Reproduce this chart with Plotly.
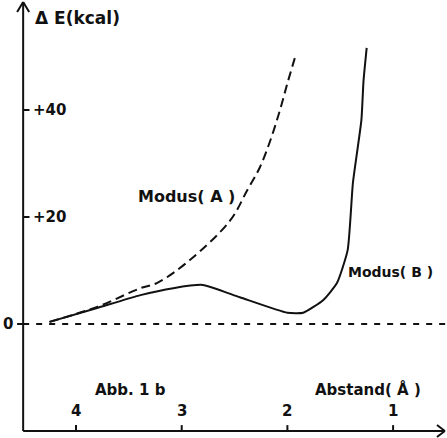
import plotly.graph_objects as go

# Data
distance_A = [4.25, 3.80, 3.39, 3.23, 2.92, 2.54, 2.38, 2.26, 2.16, 2.07, 2.00, 1.93]
energy_A = [0.4, 3.2, 6.7, 7.7, 12.0, 19.4, 25.0, 29.3, 34.4, 40.0, 45.0, 49.7]

distance_B = [4.25, 3.80, 3.39, 3.08, 2.80, 2.45, 2.00, 1.85, 1.66, 1.53, 1.43, 1.38, 1.30, 1.28, 1.25]
energy_B = [0.4, 3.0, 5.4, 6.7, 7.3, 5.0, 2.1, 2.1, 4.5, 7.7, 13.8, 26.4, 38.1, 45.4, 51.6]

x_ticks = [4, 3, 2, 1]
y_ticks = [0, 20, 40]
y_tick_labels = ["0", "+20", "+40"]

X_MIN, X_MAX = 4.5, 0.51      # axis extent (reversed)
Y_MIN, Y_MAX = -20, 60.2

FONT = "DejaVu Sans"
BLACK = "#111111"

fig = go.Figure()

# zero line
fig.add_trace(go.Scatter(x=[X_MIN, 0.49], y=[0, 0], mode="lines",
                         line=dict(color=BLACK, width=2, dash="6px,7px"),
                         hoverinfo="skip", showlegend=False))
# Modus A (dashed)
fig.add_trace(go.Scatter(x=distance_A, y=energy_A, mode="lines",
                         line=dict(color=BLACK, width=2, dash="9px,5px", shape="spline", smoothing=1.0),
                         showlegend=False))
# Modus B (solid)
fig.add_trace(go.Scatter(x=distance_B, y=energy_B, mode="lines",
                         line=dict(color=BLACK, width=2, shape="spline", smoothing=0.5),
                         showlegend=False))

shapes = []
def seg(x0, y0, x1, y1, w=2):
    shapes.append(dict(type="line", xref="x", yref="y", x0=x0, y0=y0, x1=x1, y1=y1,
                       line=dict(color=BLACK, width=w)))

# axes
seg(X_MIN, Y_MIN, X_MIN, Y_MAX)
seg(X_MIN, Y_MIN, X_MAX, Y_MIN)
# arrow heads
seg(X_MIN, Y_MAX, X_MIN + 0.057, Y_MAX - 1.9)
seg(X_MIN, Y_MAX, X_MIN - 0.057, Y_MAX - 1.9)
seg(X_MAX, Y_MIN, X_MAX + 0.075, Y_MIN + 1.12)
seg(X_MAX, Y_MIN, X_MAX + 0.075, Y_MIN - 1.12)
# ticks
for t in x_ticks:
    seg(t, Y_MIN, t, Y_MIN + 1.1)
for v in y_ticks:
    if v == 0:
        seg(X_MIN, v, X_MIN + 0.057, v)
    else:
        seg(X_MIN, v, X_MIN - 0.06, v)

annotations = []
def txt(x, y, s, size=16, xanchor="center"):
    annotations.append(dict(x=x, y=y, xref="x", yref="y", text=s, showarrow=False,
                            xanchor=xanchor, yanchor="middle",
                            font=dict(family=FONT, size=size, color=BLACK, weight="bold")))

for t in x_ticks:
    txt(t, -16.3, str(t), size=15)
for v, lab in zip(y_ticks, y_tick_labels):
    if v == 0:
        txt(X_MIN + 0.08, v, lab, size=15, xanchor="right")
    else:
        txt(X_MIN - 0.07, v, lab, size=15, xanchor="left")

txt(4.41, 57.2, "\u0394 E(kcal)", size=17, xanchor="left")
txt(2.95, 23.8, "Modus( A )", size=16)
txt(1.02, 9.7, "Modus( B )", size=14)
txt(3.48, -12.4, "Abb. 1 b", size=15)
txt(1.76, -12.2, "Abstand( \u00c5 )", size=15, xanchor="left")

px0_d = 4 + 76 / 105.7
px1_d = 4 - 371 / 105.7
py0_v = 324 / 5.35
py1_v = -114 / 5.35

fig.update_layout(
    width=447, height=438,
    margin=dict(l=0, r=0, t=0, b=0),
    paper_bgcolor="white", plot_bgcolor="white",
    xaxis=dict(range=[px0_d, px1_d], visible=False),
    yaxis=dict(range=[py1_v, py0_v], visible=False),
    shapes=shapes, annotations=annotations,
    showlegend=False,
)

fig.write_html("out.html", config={"displayModeBar": False},
               post_script="document.body.style.margin='0';document.body.style.padding='0';")
